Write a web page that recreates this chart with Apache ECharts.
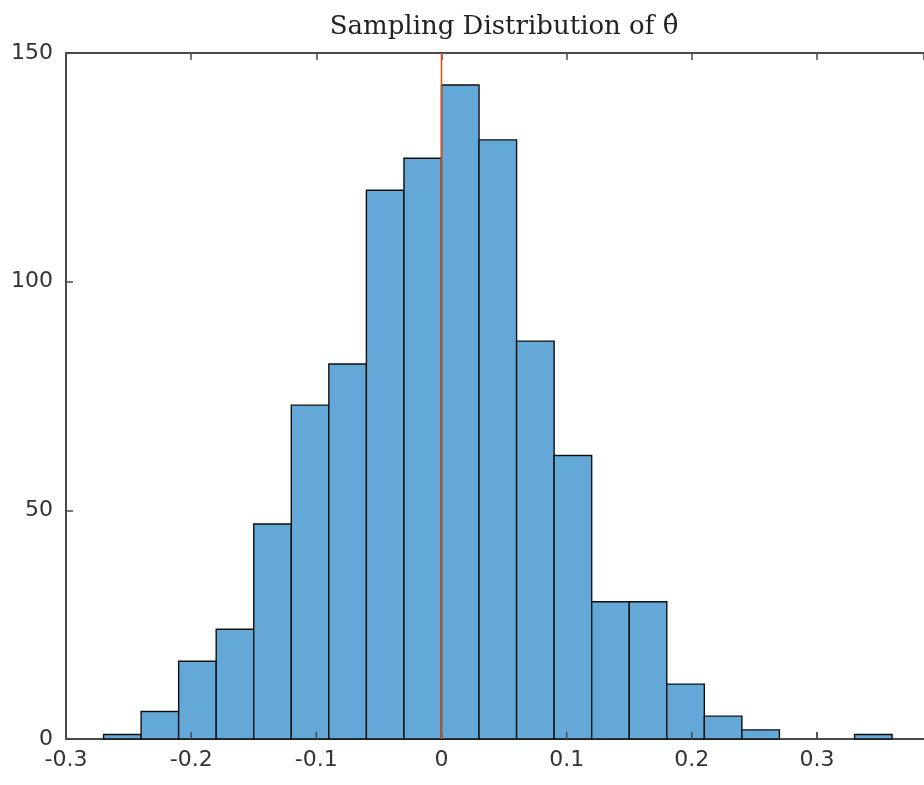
<!DOCTYPE html>
<html>
<head>
<meta charset="utf-8">
<script src="https://cdn.jsdelivr.net/npm/echarts@6/dist/echarts.min.js"></script>
<style>
  html, body { margin: 0; padding: 0; background: #fff; }
  #main { width: 924px; height: 785px; }
</style>
</head>
<body>
<div id="main"></div>
<script>
    var myChart = echarts.init(document.getElementById('main'));

    // 直方图的分箱（左边界）与计数
    var binStart = [-0.27, -0.24, -0.21, -0.18, -0.15, -0.12, -0.09, -0.06, -0.03, 0,
                    0.03, 0.06, 0.09, 0.12, 0.15, 0.18, 0.21, 0.24, 0.27, 0.30, 0.33];
    var counts = [1, 6, 17, 24, 47, 73, 82, 120, 127, 143,
                  131, 87, 62, 30, 30, 12, 5, 2, 0, 0, 1];
    var binWidth = 0.03;
    var refLine = [0];
    // 右侧被裁切，x 轴在 0.3855 处结束
    var xTicks = [-0.3, 0.3855, 0.1];
    var xTickValues = [-0.3, -0.2, -0.1, 0, 0.1, 0.2, 0.3];
    var yTicks = [0, 150, 50];

    var data = binStart.map(function (s, i) { return [s, s + binWidth, counts[i]]; });

    var axisColor = '#4a4a4a';
    var labelFont = {
        color: '#333',
        fontSize: 22,
        fontFamily: 'DejaVu Sans, sans-serif'
    };
    const tick = () => ({ show: true, inside: true, length: 7, lineStyle: { color: axisColor, width: 1.5 } });
    const line = () => ({ show: true, onZero: false, lineStyle: { color: axisColor, width: 2 } });

    option = {
        animation: false,
        title: {
            text: 'Sampling Distribution of θ̂',
            left: 499,
            textAlign: 'center',
            top: 9,
            textStyle: {
                fontFamily: 'DejaVu Serif, serif',
                fontWeight: 'normal',
                fontSize: 26,
                color: '#222'
            }
        },
        grid: {
            left: 66,
            right: 0,
            top: 53,
            bottom: 46,
            outerBoundsMode: 'none',
            show: false
        },
        xAxis: [{
            type: 'value',
            position: 'bottom',
            min: xTicks[0],
            max: xTicks[1],
            interval: xTicks[2],
            axisLine: line(),
            axisTick: tick(),
            splitLine: { show: false },
            axisLabel: Object.assign({
                margin: 10,
                showMaxLabel: false,
                formatter: function (v) { return Math.round(v * 10) / 10 + ''; }
            }, labelFont)
        }, {
            type: 'value',
            position: 'top',
            min: xTicks[0],
            max: xTicks[1],
            interval: xTicks[2],
            axisLine: line(),
            axisTick: tick(),
            splitLine: { show: false },
            axisLabel: { show: false }
        }],
        yAxis: {
            type: 'value',
            position: 'left',
            min: yTicks[0],
            max: yTicks[1],
            interval: yTicks[2],
            axisLine: line(),
            axisTick: tick(),
            splitLine: { show: false },
            axisLabel: Object.assign({ margin: 13 }, labelFont)
        },
        series: [{
            type: 'custom',
            xAxisIndex: 0,
            data: data,
            z: 2,
            renderItem: function (params, api) {
                if (api.value(2) <= 0) return;
                var p0 = api.coord([api.value(0), 0]);
                var p1 = api.coord([api.value(1), api.value(2)]);
                return {
                    type: 'rect',
                    shape: { x: p0[0], y: p1[1], width: p1[0] - p0[0], height: p0[1] - p1[1] },
                    style: { fill: '#64a8d7', stroke: '#111', lineWidth: 1.4 }
                };
            },
            encode: { x: [0, 1], y: 2 }
        }, {
            // 底部轴向内的刻度线（画在柱子上面）
            type: 'custom',
            xAxisIndex: 0,
            z: 15,
            silent: true,
            data: xTickValues.map(function (v) { return [v, yTicks[0]]; }),
            renderItem: function (params, api) {
                var p = api.coord([api.value(0), api.value(1)]);
                return {
                    type: 'line',
                    shape: { x1: p[0], y1: p[1], x2: p[0], y2: p[1] - 7 },
                    style: { stroke: axisColor, lineWidth: 1.5 }
                };
            },
            encode: { x: 0, y: 1 }
        }, {
            type: 'line',
            xAxisIndex: 0,
            z: 20,
            symbol: 'none',
            silent: true,
            lineStyle: { color: '#d95319', width: 1.6 },
            data: [[refLine[0], yTicks[0]], [refLine[0], yTicks[1]]]
        }]
    };

    myChart.setOption(option);
</script>
</body>
</html>
